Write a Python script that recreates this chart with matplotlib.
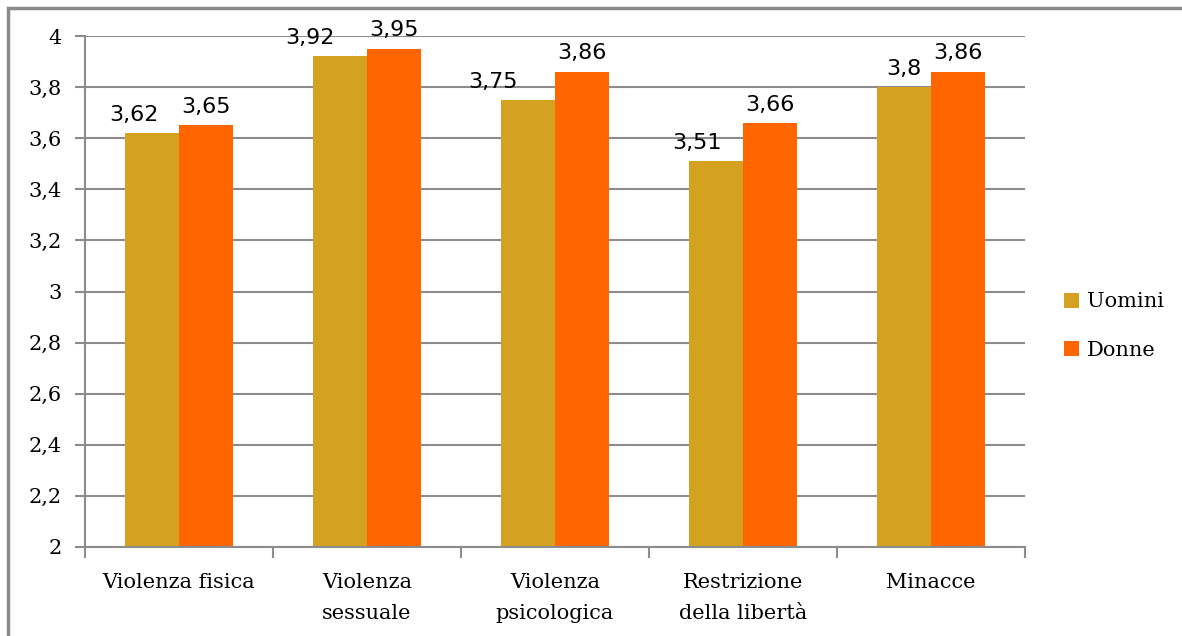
import matplotlib
matplotlib.use("Agg")
import matplotlib.pyplot as plt
import numpy as np
from matplotlib.patches import Rectangle

categories = ["Violenza fisica", "Violenza\nsessuale", "Violenza\npsicologica",
              "Restrizione\ndella libertà", "Minacce"]
uomini = [3.62, 3.92, 3.75, 3.51, 3.8]
donne = [3.65, 3.95, 3.86, 3.66, 3.86]
uomini_labels = ["3,62", "3,92", "3,75", "3,51", "3,8"]
donne_labels = ["3,65", "3,95", "3,86", "3,66", "3,86"]
y_ticks = [2, 2.2, 2.4, 2.6, 2.8, 3, 3.2, 3.4, 3.6, 3.8, 4]
y_ticklabels = ["2", "2,2", "2,4", "2,6", "2,8", "3", "3,2", "3,4", "3,6", "3,8", "4"]

# label nudges (pixels) to mimic the original label placement
uomini_dx = [-18, -30, -35, -19, 0]

col_u = "#D4A121"
col_d = "#FF6600"
grid_col = "#8c8c8c"
serif = ["DejaVu Serif"]

fig = plt.figure(figsize=(11.82, 6.36), dpi=100)
ax = fig.add_axes([85 / 1182, 1 - 547 / 636, (1025 - 85) / 1182, (547 - 36) / 636])

x = np.arange(len(categories))
w = 0.285
ax.bar(x - w / 2, [v - 2 for v in uomini], w, bottom=2, color=col_u, label="Uomini", zorder=3)
ax.bar(x + w / 2, [v - 2 for v in donne], w, bottom=2, color=col_d, label="Donne", zorder=3)

px = 72 / 100
for i in range(len(categories)):
    ax.annotate(uomini_labels[i], (x[i] - w / 2, uomini[i]),
                xytext=(uomini_dx[i] * px, 6), textcoords="offset points",
                ha="center", va="bottom", fontsize=16, family="DejaVu Sans")
    ax.annotate(donne_labels[i], (x[i] + w / 2, donne[i]),
                xytext=(0, 6), textcoords="offset points",
                ha="center", va="bottom", fontsize=16, family="DejaVu Sans")

ax.set_xlim(-0.5, len(categories) - 0.5)
ax.set_ylim(2, 4)
ax.set_yticks(y_ticks)
ax.set_yticklabels(y_ticklabels, family=serif, fontsize=15)
ax.set_xticks(x)
ax.set_xticklabels(categories, family=serif, fontsize=15, linespacing=1.75)
ax.set_xticks(np.arange(-0.5, len(categories)), minor=True)
ax.tick_params(axis="x", which="major", length=0, pad=19)
ax.tick_params(axis="x", which="minor", length=8, width=1.5, color=grid_col)
ax.tick_params(axis="y", length=7, width=1.5, color=grid_col, pad=10)

ax.yaxis.grid(True, color=grid_col, linewidth=1.5, zorder=0)
ax.set_axisbelow(True)
for s in ["top", "right"]:
    ax.spines[s].set_visible(False)
for s in ["left", "bottom"]:
    ax.spines[s].set_color(grid_col)
    ax.spines[s].set_linewidth(1.5)
    ax.spines[s].set_zorder(4)

fig.legend(loc="center left", bbox_to_anchor=(1045 / 1182, 1 - 326 / 636),
           frameon=False, prop={"family": serif, "size": 15},
           handlelength=0.75, handleheight=0.75, handletextpad=0.35, labelspacing=1.4)

# outer chart frame
fig.patches.append(Rectangle((8 / 1182, -0.1), 1.2, 1 - 8 / 636 + 0.1,
                             transform=fig.transFigure, fill=False,
                             edgecolor="#8a8a8a", linewidth=2.5))

fig.savefig("out.png", dpi=100)
